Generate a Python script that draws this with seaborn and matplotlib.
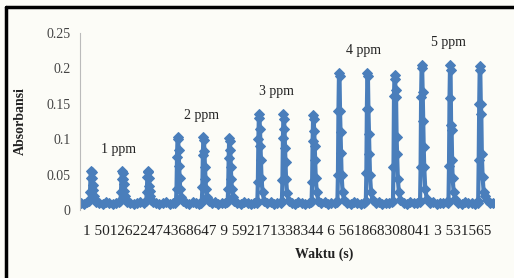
import matplotlib
matplotlib.use("Agg")
import matplotlib.pyplot as plt
import seaborn as sns
import pandas as pd
from matplotlib.lines import Line2D

# absorbance readings (time s, absorbance) per concentration group
group_1ppm = [
    (0, 0.010), (12, 0.009), (24, 0.011),
    (34, 0.012), (36, 0.025), (38, 0.045), (40, 0.055), (42, 0.053), (44, 0.045), (46, 0.035), (48, 0.028), (50, 0.020), (54, 0.014), (60, 0.011),
    (72, 0.010), (85, 0.009), (98, 0.011), (111, 0.010), (124, 0.009), (137, 0.010), (148, 0.011),
    (154, 0.012), (156, 0.025), (158, 0.044), (160, 0.055), (162, 0.052), (164, 0.044), (166, 0.036), (168, 0.027), (170, 0.020), (174, 0.014), (180, 0.011),
    (192, 0.010), (205, 0.009), (218, 0.010), (231, 0.011), (244, 0.010),
    (254, 0.012), (256, 0.026), (258, 0.046), (260, 0.055), (262, 0.053), (264, 0.045), (266, 0.034), (268, 0.027), (270, 0.020), (274, 0.014), (280, 0.011),
    (292, 0.010), (305, 0.009), (318, 0.010), (331, 0.011), (344, 0.009), (357, 0.010), (366, 0.010),
]
group_2ppm = [
    (369, 0.012), (371, 0.030), (373, 0.075), (375, 0.103), (377, 0.100), (379, 0.085), (381, 0.062), (383, 0.045), (385, 0.030), (389, 0.018), (395, 0.012),
    (407, 0.010), (420, 0.009), (433, 0.011), (446, 0.010), (459, 0.009), (466, 0.010),
    (469, 0.012), (471, 0.032), (473, 0.078), (475, 0.103), (477, 0.099), (479, 0.083), (481, 0.061), (483, 0.044), (485, 0.029), (489, 0.018), (495, 0.012),
    (507, 0.010), (520, 0.011), (533, 0.009), (546, 0.010), (559, 0.010), (566, 0.011),
    (569, 0.012), (571, 0.030), (573, 0.074), (575, 0.102), (577, 0.098), (579, 0.084), (581, 0.060), (583, 0.043), (585, 0.029), (589, 0.018), (595, 0.012),
    (607, 0.010), (620, 0.009), (633, 0.011), (646, 0.010), (659, 0.009), (672, 0.010), (681, 0.010),
]
group_3ppm = [
    (684, 0.012), (686, 0.040), (688, 0.100), (690, 0.135), (692, 0.130), (694, 0.115), (696, 0.090), (698, 0.070), (700, 0.045), (704, 0.025), (710, 0.013),
    (722, 0.010), (735, 0.011), (748, 0.009), (761, 0.010), (774, 0.010), (777, 0.011),
    (779, 0.012), (781, 0.042), (783, 0.102), (785, 0.135), (787, 0.129), (789, 0.114), (791, 0.088), (793, 0.068), (795, 0.044), (799, 0.024), (805, 0.013),
    (817, 0.010), (830, 0.009), (843, 0.011), (856, 0.010), (869, 0.009), (882, 0.010), (892, 0.011),
    (894, 0.012), (896, 0.040), (898, 0.098), (900, 0.134), (902, 0.128), (904, 0.112), (906, 0.090), (908, 0.070), (910, 0.045), (914, 0.025), (920, 0.013),
    (932, 0.010), (945, 0.011), (958, 0.009), (971, 0.010), (984, 0.010), (992, 0.011),
]
group_4ppm = [
    (994, 0.013), (996, 0.050), (998, 0.140), (1000, 0.193), (1002, 0.190), (1004, 0.140), (1006, 0.110), (1008, 0.080), (1010, 0.050), (1014, 0.025), (1020, 0.014),
    (1032, 0.010), (1045, 0.009), (1058, 0.011), (1071, 0.010), (1084, 0.009), (1097, 0.010), (1102, 0.011),
    (1104, 0.013), (1106, 0.052), (1108, 0.142), (1110, 0.193), (1112, 0.189), (1114, 0.142), (1116, 0.108), (1118, 0.079), (1120, 0.050), (1124, 0.026), (1130, 0.014),
    (1142, 0.010), (1155, 0.011), (1168, 0.009), (1181, 0.010), (1194, 0.010), (1207, 0.011),
    (1209, 0.013), (1211, 0.060), (1213, 0.161), (1215, 0.191), (1217, 0.185), (1219, 0.169), (1221, 0.160), (1223, 0.103), (1225, 0.079), (1228, 0.043), (1232, 0.025), (1238, 0.014),
    (1250, 0.010), (1263, 0.009), (1276, 0.011), (1289, 0.010), (1302, 0.010), (1312, 0.011),
]
group_5ppm = [
    (1314, 0.013), (1316, 0.060), (1318, 0.160), (1320, 0.205), (1322, 0.200), (1324, 0.167), (1326, 0.126), (1328, 0.089), (1330, 0.060), (1334, 0.030), (1340, 0.015),
    (1352, 0.010), (1365, 0.011), (1378, 0.009), (1391, 0.010), (1404, 0.010), (1417, 0.011), (1422, 0.010),
    (1424, 0.013), (1426, 0.062), (1428, 0.158), (1430, 0.205), (1432, 0.198), (1434, 0.120), (1436, 0.113), (1438, 0.070), (1440, 0.045), (1444, 0.025), (1450, 0.015),
    (1462, 0.010), (1475, 0.009), (1488, 0.011), (1501, 0.010), (1514, 0.010), (1527, 0.009), (1537, 0.010),
    (1539, 0.013), (1541, 0.070), (1543, 0.150), (1545, 0.203), (1547, 0.198), (1549, 0.150), (1551, 0.136), (1553, 0.079), (1556, 0.047), (1560, 0.026), (1566, 0.020), (1572, 0.014),
    (1584, 0.010), (1597, 0.010),
]

concentration_labels = ["1 ppm", "2 ppm", "3 ppm", "4 ppm", "5 ppm"]
label_time = [147, 469, 759, 1093, 1422]
label_abs = [0.086, 0.133, 0.167, 0.226, 0.236]

ytick_values = [0, 0.05, 0.1, 0.15, 0.2, 0.25]
ytick_labels = ["0", "0.05", "0.1", "0.15", "0.2", "0.25"]
xtick_text = "1 5012622474368647 9 592171338344 6 561868308041 3 531565"

rows = []
for g in [group_1ppm, group_2ppm, group_3ppm, group_4ppm, group_5ppm]:
    rows.extend(g)
df = pd.DataFrame(rows, columns=["waktu", "absorbansi"])

sns.set_theme(style="white")
plt.rcParams['font.family'] = ['Liberation Serif', 'DejaVu Serif']

fig = plt.figure(figsize=(5.14, 2.78), dpi=100)
fig.patch.set_facecolor('#fcfcf7')
ax = fig.add_axes([0.156, 0.245, 0.805, 0.636])
ax.set_facecolor('#fcfcf7')

blue = '#4a7ebb'
sns.lineplot(data=df, x="waktu", y="absorbansi", sort=False, estimator=None,
             color=blue, linewidth=3.0, marker='D', markersize=5.5,
             markeredgecolor=blue, ax=ax)

for lab, tx, ty in zip(concentration_labels, label_time, label_abs):
    ax.text(tx, ty, lab, ha='center', va='center', fontsize=10, color='#222222')

ax.set_xlim(-2, 1600)
ax.set_ylim(0, 0.25)
ax.set_yticks(ytick_values)
ax.set_yticklabels(ytick_labels, fontsize=10, color='#444444')
ax.set_xticks([800])
ax.set_xticklabels([xtick_text], fontsize=11, color='#222222')
ax.tick_params(axis='x', length=0, pad=11)
ax.tick_params(axis='y', direction='out', length=3, color='#aaaaaa', pad=4)

for s in ['top', 'right', 'bottom']:
    ax.spines[s].set_visible(False)
ax.spines['left'].set_color('#bbbbbb')
ax.spines['left'].set_linewidth(0.8)

ax.set_ylabel("Absorbansi", fontsize=10, fontweight='bold', color='#222222', labelpad=14)
ax.set_xlabel("Waktu (s)", fontsize=10, fontweight='bold', color='#222222')
ax.xaxis.set_label_coords(0.59, -0.21)

# black frame lines on left and top edge of the figure
fig.add_artist(Line2D([0.012, 0.012], [0, 0.975], color='black', linewidth=2.5, transform=fig.transFigure))
fig.add_artist(Line2D([0.012, 1.0], [0.975, 0.975], color='black', linewidth=2.5, transform=fig.transFigure))

fig.savefig("out.png", dpi=100, facecolor=fig.get_facecolor())
